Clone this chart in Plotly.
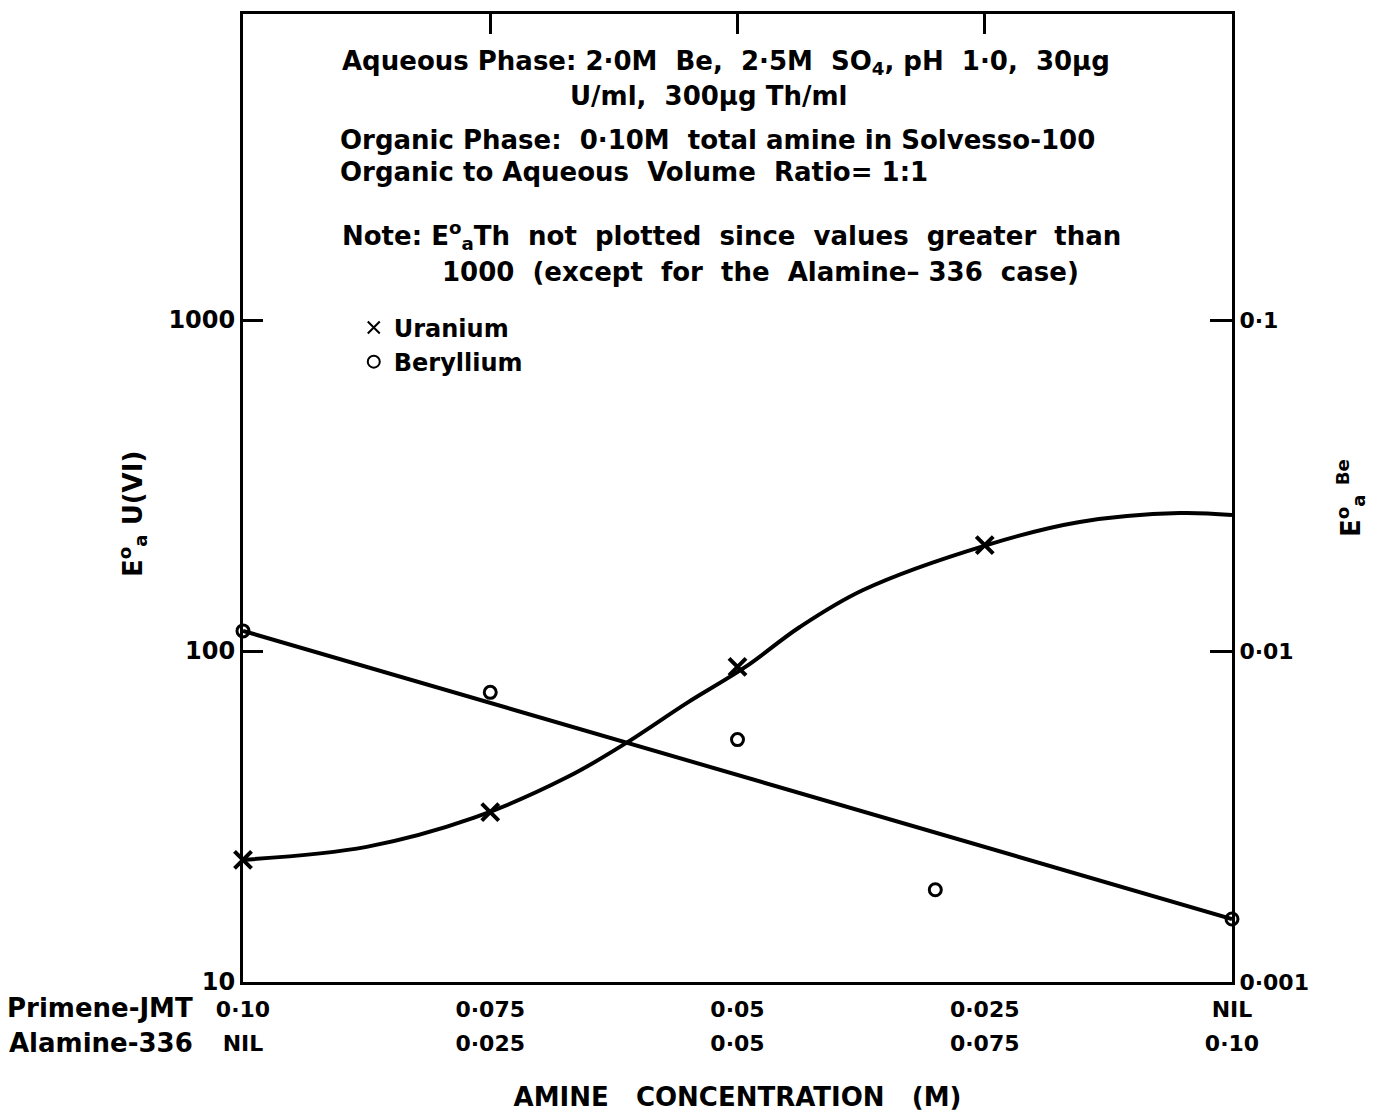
import plotly.graph_objects as go

# Amine composition of the organic phase (0.10 M total amine)
alamine_m = [0.0, 0.025, 0.05, 0.075, 0.10]
primene_labels = ["0·10", "0·075", "0·05", "0·025", "NIL"]
alamine_labels = ["NIL", "0·025", "0·05", "0·075", "0·10"]

# Uranium(VI) extraction coefficients (left axis)
u_x = [0.0, 0.025, 0.05, 0.075]
u_e = [23.4, 32.6, 89.5, 209.0]

# Smooth curve drawn through the uranium data
u_curve_x = [0.0, 0.0125, 0.0233, 0.0328, 0.0386, 0.0449, 0.0508,
             0.0563, 0.0627, 0.0752, 0.0846, 0.0947, 0.10]
u_curve_e = [23.4, 25.6, 31.3, 41.6, 52.4, 69.7, 89.5,
             118.2, 152.9, 209.0, 245.3, 261.1, 257.6]

# Beryllium extraction coefficients (right axis)
be_x = [0.0, 0.025, 0.05, 0.070, 0.10]
be_e = [0.0115, 0.0075, 0.0054, 0.0019, 0.00155]

# Straight-line fit to the beryllium data
be_fit_x = [0.0, 0.10]
be_fit_e = [0.0115, 0.00155]

left_ticks = [10, 100, 1000]
left_labels = ["10", "100", "1000"]
right_ticks = [0.001, 0.01, 0.1]
right_labels = ["0·001", "0·01", "0·1"]

FONT = "DejaVu Sans"
INK = "black"
NB = "\u00a0"

fig = go.Figure()

# Curves: the uranium curve sits on the top x axis and the beryllium fit on the
# lower label axis so that every overlaid axis has something to draw.
fig.add_trace(go.Scatter(
    x=u_curve_x, y=u_curve_e, mode="lines", line=dict(color=INK, width=4, shape="spline"),
    showlegend=False, hoverinfo="skip", xaxis="x2", yaxis="y"))
fig.add_trace(go.Scatter(
    x=be_fit_x, y=be_fit_e, mode="lines", line=dict(color=INK, width=4),
    showlegend=False, hoverinfo="skip", xaxis="x3", yaxis="y2"))
fig.add_trace(go.Scatter(
    x=u_x, y=u_e, mode="markers", name="Uranium", cliponaxis=False,
    marker=dict(symbol="x-thin", size=17, line=dict(color=INK, width=4)),
    xaxis="x", yaxis="y"))
fig.add_trace(go.Scatter(
    x=be_x, y=be_e, mode="markers", name="Beryllium", cliponaxis=False,
    marker=dict(symbol="circle-open", size=12, color=INK, line=dict(color=INK, width=3)),
    xaxis="x", yaxis="y2"))

axis_common = dict(showgrid=False, zeroline=False, linecolor=INK, linewidth=3,
                   tickcolor=INK, tickwidth=3)

fig.update_layout(
    width=1380, height=1119,
    margin=dict(l=243, r=148, t=14, b=137),
    paper_bgcolor="white", plot_bgcolor="white",
    font=dict(family=FONT, size=22, color=INK, weight="bold"),
    xaxis=dict(range=[0, 0.1], tickvals=alamine_m, ticktext=primene_labels,
               ticks="", showline=True, ticklabelstandoff=6,
               tickfont=dict(size=22), **axis_common),
    xaxis2=dict(range=[0, 0.1], overlaying="x", side="top", anchor="y",
                tickvals=[0.025, 0.05, 0.075], ticks="inside", ticklen=20,
                showticklabels=False, showline=True, **axis_common),
    xaxis3=dict(range=[0, 0.1], overlaying="x", side="bottom", anchor="y",
                tickvals=alamine_m, ticktext=alamine_labels, ticks="",
                showline=False, ticklabelstandoff=46, tickfont=dict(size=22),
                title=dict(text=f"AMINE{NB}{NB}{NB}CONCENTRATION{NB}{NB}{NB}(M)",
                           font=dict(size=26), standoff=32),
                showgrid=False, zeroline=False),
    yaxis=dict(type="log", range=[1, 3.9245], tickvals=left_ticks, ticktext=left_labels,
               ticks="inside", ticklen=20, showline=True, tickfont=dict(size=24),
               **axis_common),
    yaxis2=dict(type="log", range=[-3, -0.0755], overlaying="y", side="right",
                anchor="x", tickvals=right_ticks, ticktext=right_labels,
                ticks="inside", ticklen=22, showline=True, tickfont=dict(size=22),
                title=dict(text="E<sup>o</sup><sub>a</sub> <sup>Be</sup>",
                           font=dict(size=26), standoff=34),
                **axis_common),
    legend=dict(x=0.112, y=0.699, xanchor="left", yanchor="top",
                font=dict(size=24), bgcolor="rgba(0,0,0,0)", tracegroupgap=4,
                itemsizing="constant"),
)

# Left axis title
fig.add_annotation(x=0, y=0.4835, xref="paper", yref="paper",
                   text="E<sup>o</sup><sub>a</sub> U(VI)", textangle=-90,
                   showarrow=False, xanchor="center", yanchor="middle",
                   xshift=-110, font=dict(size=26))

notes = [
    (0.098, 0.950, f"Aqueous Phase:{NB}2·0M{NB}{NB}Be,{NB}{NB}2·5M{NB}{NB}SO<sub>4</sub>,{NB}pH{NB}{NB}1·0,{NB}{NB}30µg"),
    (0.3286, 0.9153, f"U/ml,{NB}{NB}300µg{NB}Th/ml"),
    (0.096, 0.8698, f"Organic Phase:{NB}{NB}0·10M{NB}{NB}total amine in Solvesso-100"),
    (0.096, 0.8368, f"Organic to Aqueous{NB}{NB}Volume{NB}{NB}Ratio= 1:1"),
    (0.098, 0.7707, f"Note:{NB}E<sup>o</sup><sub>a</sub>Th{NB}{NB}not{NB}{NB}plotted{NB}{NB}since{NB}{NB}values{NB}{NB}greater{NB}{NB}than"),
    (0.199, 0.7335, f"1000{NB}{NB}(except{NB}{NB}for{NB}{NB}the{NB}{NB}Alamine–{NB}336{NB}{NB}case)"),
]
for x, y, t in notes:
    fig.add_annotation(x=x, y=y, xref="paper", yref="paper", text=t, showarrow=False,
                       xanchor="left", yanchor="middle", font=dict(size=26))

# Row captions for the two amine scales under the x axis
fig.add_annotation(x=0, y=0, xref="paper", yref="paper", text="Primene-JMT",
                   showarrow=False, xanchor="right", yanchor="middle",
                   xshift=-48, yshift=-26, font=dict(size=26))
fig.add_annotation(x=0, y=0, xref="paper", yref="paper", text="Alamine-336",
                   showarrow=False, xanchor="right", yanchor="middle",
                   xshift=-48, yshift=-61, font=dict(size=26))

fig.write_html("out.html")
